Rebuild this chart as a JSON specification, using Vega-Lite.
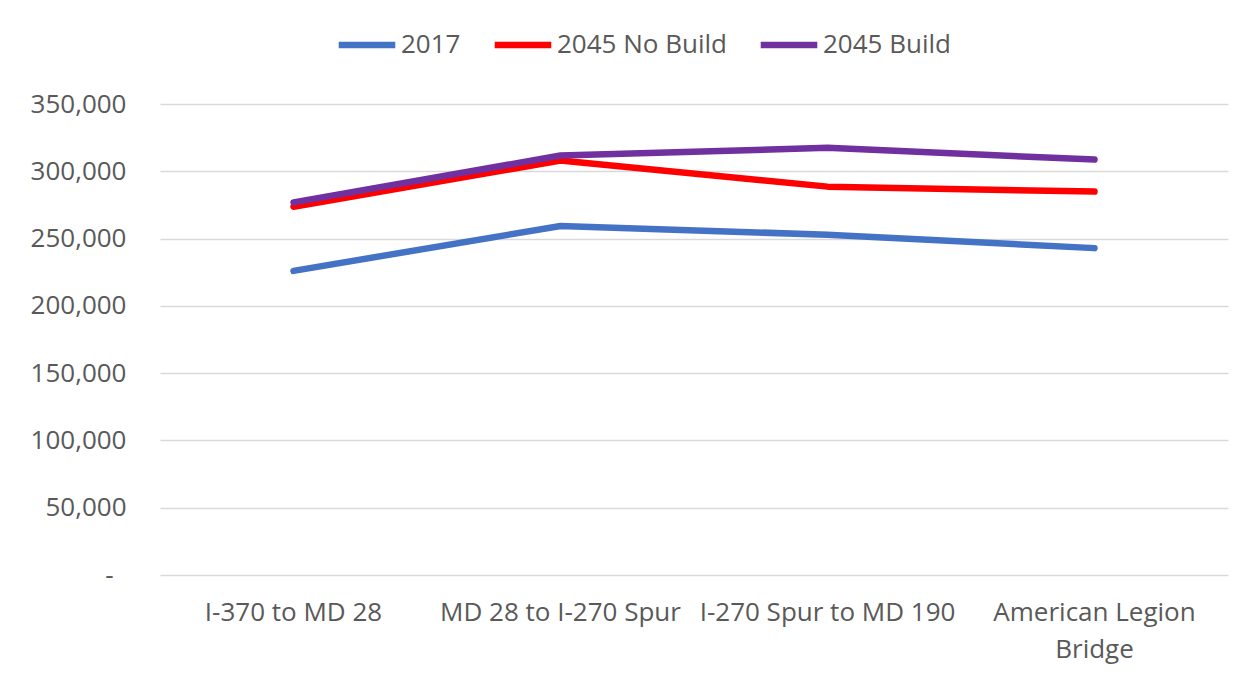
{
  "$schema": "https://vega.github.io/schema/vega-lite/v6.json",
  "autosize": {"type": "none"},
  "padding": {"left": 160, "top": 104, "right": 27, "bottom": 106},
  "width": 1068,
  "height": 471,
  "background": "white",
  "config": {
    "view": {"stroke": null},
    "font": "Open Sans",
    "axis": {"labelFont": "Open Sans", "labelColor": "#595959", "labelFontSize": 26},
    "legend": {"labelFont": "Open Sans", "labelColor": "#595959", "labelFontSize": 26, "labelLimit": 400}
  },
  "data": {
    "values": [
      {"segment": "I-370 to MD 28", "series": "2017", "volume": 226000},
      {"segment": "MD 28 to I-270 Spur", "series": "2017", "volume": 259400},
      {"segment": "I-270 Spur to MD 190", "series": "2017", "volume": 252800},
      {"segment": "American Legion Bridge", "series": "2017", "volume": 242900},
      {"segment": "I-370 to MD 28", "series": "2045 No Build", "volume": 273700},
      {"segment": "MD 28 to I-270 Spur", "series": "2045 No Build", "volume": 308000},
      {"segment": "I-270 Spur to MD 190", "series": "2045 No Build", "volume": 288600},
      {"segment": "American Legion Bridge", "series": "2045 No Build", "volume": 284900},
      {"segment": "I-370 to MD 28", "series": "2045 Build", "volume": 276900},
      {"segment": "MD 28 to I-270 Spur", "series": "2045 Build", "volume": 311700},
      {"segment": "I-270 Spur to MD 190", "series": "2045 Build", "volume": 317400},
      {"segment": "American Legion Bridge", "series": "2045 Build", "volume": 308700}
    ]
  },
  "mark": {"type": "line", "strokeWidth": 6.5, "strokeCap": "round", "strokeJoin": "round"},
  "encoding": {
    "x": {
      "field": "segment",
      "type": "nominal",
      "sort": null,
      "scale": {"type": "band", "paddingInner": 0, "paddingOuter": 0},
      "axis": {
        "title": null,
        "labelAngle": 0,
        "domain": false,
        "ticks": false,
        "grid": false,
        "labelPadding": 24,
        "labelLineHeight": 37,
        "labelLimit": 0,
        "labelOverlap": false,
        "labelExpr": "datum.value == 'American Legion Bridge' ? ['American Legion', 'Bridge'] : datum.value"
      }
    },
    "y": {
      "field": "volume",
      "type": "quantitative",
      "scale": {"domain": [0, 350000], "nice": false},
      "axis": {
        "title": null,
        "values": [0, 50000, 100000, 150000, 200000, 250000, 300000, 350000],
        "domain": false,
        "ticks": false,
        "gridColor": "#d9d9d9",
        "gridWidth": 1.5,
        "labelOverlap": false,
        "labelFlush": false,
        "labelPadding": {"condition": {"test": "datum.value == 0", "value": 47}, "value": 34},
        "labelExpr": "datum.value == 0 ? '-' : format(datum.value, ',')"
      }
    },
    "color": {
      "field": "series",
      "type": "nominal",
      "sort": ["2017", "2045 No Build", "2045 Build"],
      "scale": {"domain": ["2017", "2045 No Build", "2045 Build"], "range": ["#4472C4", "#FF0000", "#7030A0"]},
      "legend": {
        "title": null,
        "orient": "none",
        "direction": "horizontal",
        "legendX": 175,
        "legendY": -91,
        "symbolType": "stroke",
        "symbolStrokeWidth": 6.5,
        "symbolSize": 3200,
        "labelOffset": 2,
        "labelLimit": 400,
        "columnPadding": 20
      }
    }
  }
}
